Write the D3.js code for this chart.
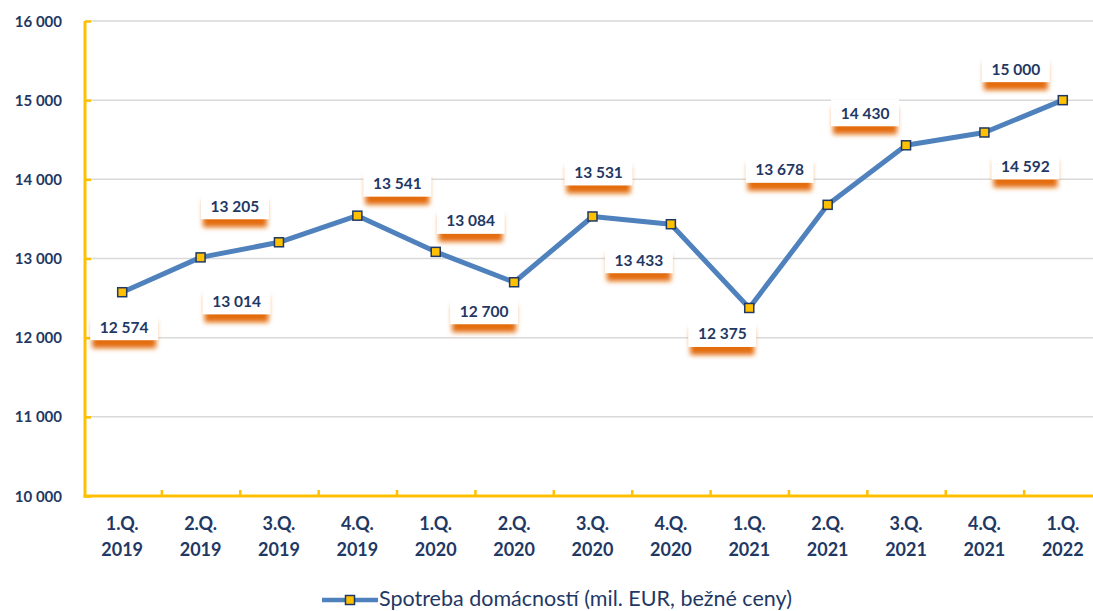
<!DOCTYPE html>
<html>
<head>
<meta charset="utf-8">
<script src="https://cdn.jsdelivr.net/npm/d3@7"></script>
<style>
  body { margin: 0; background: #fff; }
  text { font-family: Lato, "Open Sans", sans-serif; }
</style>
</head>
<body>
<div id="chart"></div>
<script>
// data
var quarters = ["1.Q.", "2.Q.", "3.Q.", "4.Q.", "1.Q.", "2.Q.", "3.Q.", "4.Q.", "1.Q.", "2.Q.", "3.Q.", "4.Q.", "1.Q."];
var years = ["2019", "2019", "2019", "2019", "2020", "2020", "2020", "2020", "2021", "2021", "2021", "2021", "2022"];
var values = [12574, 13014, 13205, 13541, 13084, 12700, 13531, 13433, 12375, 13678, 14430, 14592, 15000];
var yTicks = [10000, 11000, 12000, 13000, 14000, 15000, 16000];
var seriesName = "Spotreba domácností (mil. EUR, bežné ceny)";

// label placement relative to the point (px)
var labelDx = [2, 36, -44, 40, 35, -30, 6, -32, -27, -48, -41, 41, -47];
var labelDy = [35, 44, -36, -32, -31, 29, -44, 36, 26, -35, -32, 34, -31];

var svgWidth = 1093, svgHeight = 611;
var navy = "#1f3864";

var svg = d3.select("#chart")
  .append("svg")
    .attr("width", svgWidth)
    .attr("height", svgHeight);

var defs = svg.append("defs");
var f = defs.append("filter").attr("id", "blur")
  .attr("x", "-30%").attr("y", "-40%").attr("width", "160%").attr("height", "180%");
f.append("feGaussianBlur").attr("stdDeviation", 2.6);

var idx = d3.range(values.length);

var x = d3.scaleBand()
  .domain(idx)
  .range([85, 1104]);

var y = d3.scaleLinear()
  .domain([10000, 16000])
  .range([496, 21]);

var fmt = function (v) { return d3.format(",")(v).replace(/,/g, " "); };

// gridlines
svg.append("g")
  .selectAll("line")
  .data(yTicks.slice(1))
  .enter().append("line")
    .attr("x1", 85)
    .attr("x2", 1093)
    .attr("y1", d => y(d))
    .attr("y2", d => y(d))
    .style("stroke", "#d9d9d9")
    .style("stroke-width", 1.5);

// y axis
var yAxis = svg.append("g")
  .attr("transform", "translate(85,0)")
  .call(d3.axisRight(y).tickValues(yTicks).tickSize(6).tickFormat(""));
yAxis.select(".domain").remove();
yAxis.selectAll("line").style("stroke", "#ffc000").style("stroke-width", 2.5);

svg.append("g")
  .selectAll("text")
  .data(yTicks)
  .enter().append("text")
    .attr("x", 62)
    .attr("y", d => y(d) + 5.5)
    .attr("text-anchor", "end")
    .style("font-size", "15px")
    .style("font-weight", "bold")
    .style("fill", navy)
    .text(fmt);

// x axis ticks at band boundaries
var bounds = d3.range(values.length + 1).map(i => 85 + i * x.step());
svg.append("g")
  .selectAll("line")
  .data(bounds.slice(1, -1))
  .enter().append("line")
    .attr("x1", d => d - 1.5).attr("x2", d => d - 1.5)
    .attr("y1", 496).attr("y2", 490)
    .style("stroke", "#ffc000")
    .style("stroke-width", 2.5);

svg.append("line")
  .attr("x1", 85).attr("x2", 85)
  .attr("y1", 21).attr("y2", 497.5)
  .style("stroke", "#ffc000").style("stroke-width", 3);
svg.append("line")
  .attr("x1", 83.5).attr("x2", 1100)
  .attr("y1", 496).attr("y2", 496)
  .style("stroke", "#ffc000").style("stroke-width", 3);

var cx = d => x(d) + x.bandwidth() / 2 - 2;

var xl = svg.append("g")
  .selectAll("text")
  .data(idx)
  .enter().append("text")
    .attr("text-anchor", "middle")
    .style("font-size", "18px")
    .style("font-weight", "bold")
    .style("fill", navy);
xl.append("tspan")
  .attr("x", d => cx(d))
  .attr("y", 530)
  .text(d => quarters[d]);
xl.append("tspan")
  .attr("x", d => cx(d))
  .attr("y", 556)
  .text(d => years[d]);

// line
var line = d3.line()
  .x(d => cx(d))
  .y(d => y(values[d]));

svg.append("path")
  .datum(idx)
  .attr("d", line)
  .style("fill", "none")
  .style("stroke", "#4f81bd")
  .style("stroke-width", 5)
  .style("stroke-linejoin", "round");

svg.append("g")
  .selectAll("rect")
  .data(idx)
  .enter().append("rect")
    .attr("x", d => cx(d) - 4.5)
    .attr("y", d => y(values[d]) - 4.5)
    .attr("width", 9)
    .attr("height", 9)
    .style("fill", "#ffc000")
    .style("stroke", navy)
    .style("stroke-width", 1.5);

// data labels
var lab = svg.append("g")
  .selectAll("g")
  .data(idx)
  .enter().append("g")
    .attr("transform", d => "translate(" + (cx(d) + labelDx[d]) + "," + (y(values[d]) + labelDy[d]) + ")");

lab.append("rect")
  .attr("x", -32).attr("y", -6)
  .attr("width", 64).attr("height", 27)
  .style("fill", "#e36c0a")
  .attr("filter", "url(#blur)");
lab.append("rect")
  .attr("x", -34).attr("y", -14)
  .attr("width", 68).attr("height", 27)
  .style("fill", "#fff");
lab.append("text")
  .attr("y", 5.5)
  .attr("text-anchor", "middle")
  .style("font-size", "15.5px")
  .style("font-weight", "bold")
  .style("fill", navy)
  .text(d => fmt(values[d]));

// legend
var lg = svg.append("g").attr("transform", "translate(0,600)");
lg.append("line")
  .attr("x1", 322).attr("x2", 378)
  .style("stroke", "#4f81bd").style("stroke-width", 4.5);
lg.append("rect")
  .attr("x", 345.5).attr("y", -4.5).attr("width", 9).attr("height", 9)
  .style("fill", "#ffc000").style("stroke", navy).style("stroke-width", 1.5);
lg.append("text")
  .attr("x", 379).attr("y", 6)
  .style("font-size", "21.5px")
  .style("fill", navy)
  .text(seriesName);
</script>
</body>
</html>
